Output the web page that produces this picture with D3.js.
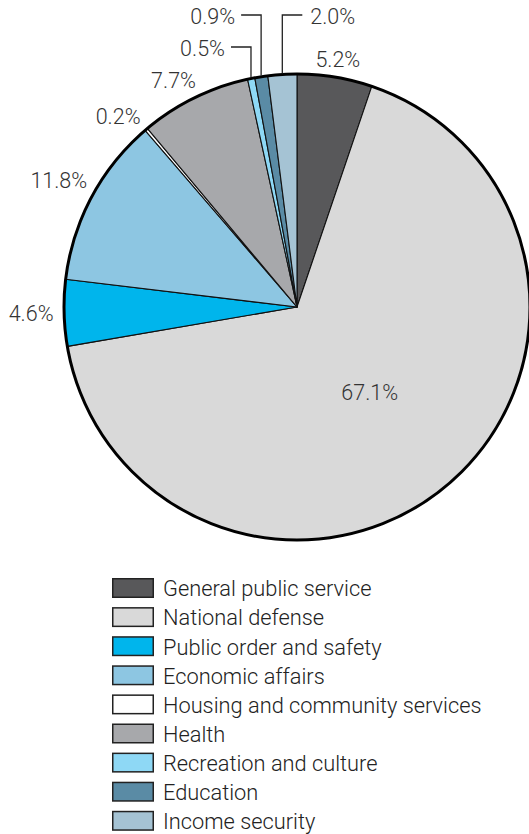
<!DOCTYPE html>
<html>
<head>
<meta charset="utf-8">
<script src="https://cdn.jsdelivr.net/npm/d3@7"></script>
<style>
  html, body { margin: 0; padding: 0; background: #fff; }
  svg { display: block; }
  text { font-family: Roboto, "Liberation Sans", sans-serif; font-weight: 300; }
</style>
</head>
<body>
<svg id="chart" width="529" height="834"></svg>
<script>
// Spending shares by function (percent of total)
const categories = [
  "General public service",
  "National defense",
  "Public order and safety",
  "Economic affairs",
  "Housing and community services",
  "Health",
  "Recreation and culture",
  "Education",
  "Income security"
];
const shares = [5.2, 67.1, 4.6, 11.8, 0.2, 7.7, 0.5, 0.9, 2.0];
const colors = ["#58585a", "#d9d9d9", "#00b5ec", "#8dc6e2", "#ffffff", "#a7a8ab", "#8ed8f5", "#5a8ba5", "#a5c3d4"];

// Label placement: distance of label centre from pie centre (plus a small nudge),
// or an elbow leader for the thin slices at the top.
const labelLayout = [
  { dist: 251, dx: 0, dy: 0 },
  { dist: 112, dx: 0, dy: 0 },
  { dist: 266, dx: 0, dy: 0 },
  { dist: 270, dx: 0, dy: 1 },
  { dist: 261, dx: -10, dy: 8 },
  { dist: 258, dx: -10, dy: 5 },
  { leaderY: 47, side: -1 },
  { leaderY: 15, side: -1 },
  { leaderY: 15, side: 1 }
];

const svg = d3.select("#chart");
const cx = 297, cy = 307, R = 233;
const fmt = d => d.toFixed(1) + "%";
const labelSize = 21.5;

const data = categories.map((c, i) => ({ name: c, value: shares[i], color: colors[i], layout: labelLayout[i] }));

const pie = d3.pie().value(d => d.value).sort(null);
const arc = d3.arc().innerRadius(0).outerRadius(R);
const arcs = pie(data);

const g = svg.append("g").attr("transform", `translate(${cx},${cy})`);

g.selectAll("path.slice")
  .data(arcs)
  .join("path")
  .attr("class", "slice")
  .attr("d", arc)
  .attr("fill", d => d.data.color)
  .attr("stroke", "#111")
  .attr("stroke-width", 1.1)
  .attr("stroke-linejoin", "round");

// heavier outer rim
g.append("circle")
  .attr("r", R)
  .attr("fill", "none")
  .attr("stroke", "#000")
  .attr("stroke-width", 3);

const mid = d => (d.startAngle + d.endAngle) / 2;

arcs.forEach(d => {
  const a = mid(d);
  const L = d.data.layout;
  if (L.dist !== undefined) {
    g.append("text")
      .attr("x", L.dist * Math.sin(a) + L.dx)
      .attr("y", -L.dist * Math.cos(a) + L.dy)
      .attr("text-anchor", "middle")
      .attr("dominant-baseline", "central")
      .attr("font-size", labelSize)
      .attr("fill", "#333")
      .text(fmt(d.data.value));
  } else {
    const x0 = (R + 1) * Math.sin(a);
    const y0 = -(R + 1) * Math.cos(a);
    const yL = L.leaderY - cy;
    const x1 = x0 + L.side * 20;
    g.append("path")
      .attr("d", `M${x0},${y0}V${yL}H${x1}`)
      .attr("fill", "none")
      .attr("stroke", "#222")
      .attr("stroke-width", 1.3);
    g.append("text")
      .attr("x", x1 + L.side * (L.side < 0 ? 6 : 8))
      .attr("y", yL + 1)
      .attr("text-anchor", L.side < 0 ? "end" : "start")
      .attr("dominant-baseline", "central")
      .attr("font-size", labelSize)
      .attr("fill", "#333")
      .text(fmt(d.data.value));
  }
});

// Legend
const legendX = 112, legendY = 578, rowH = 29.1;
const legend = svg.append("g");
const rows = legend.selectAll("g")
  .data(data)
  .join("g")
  .attr("transform", (d, i) => `translate(${legendX},${legendY + i * rowH})`);
rows.append("rect")
  .attr("x", 0.75).attr("y", 0.75)
  .attr("width", 40.5).attr("height", 18.5)
  .attr("fill", d => d.color)
  .attr("stroke", "#222")
  .attr("stroke-width", 1.5);
rows.append("text")
  .attr("x", 51)
  .attr("y", 18.3)
  .attr("font-size", 21.8)
  .attr("fill", "#222")
  .text(d => d.name);
</script>
</body>
</html>
